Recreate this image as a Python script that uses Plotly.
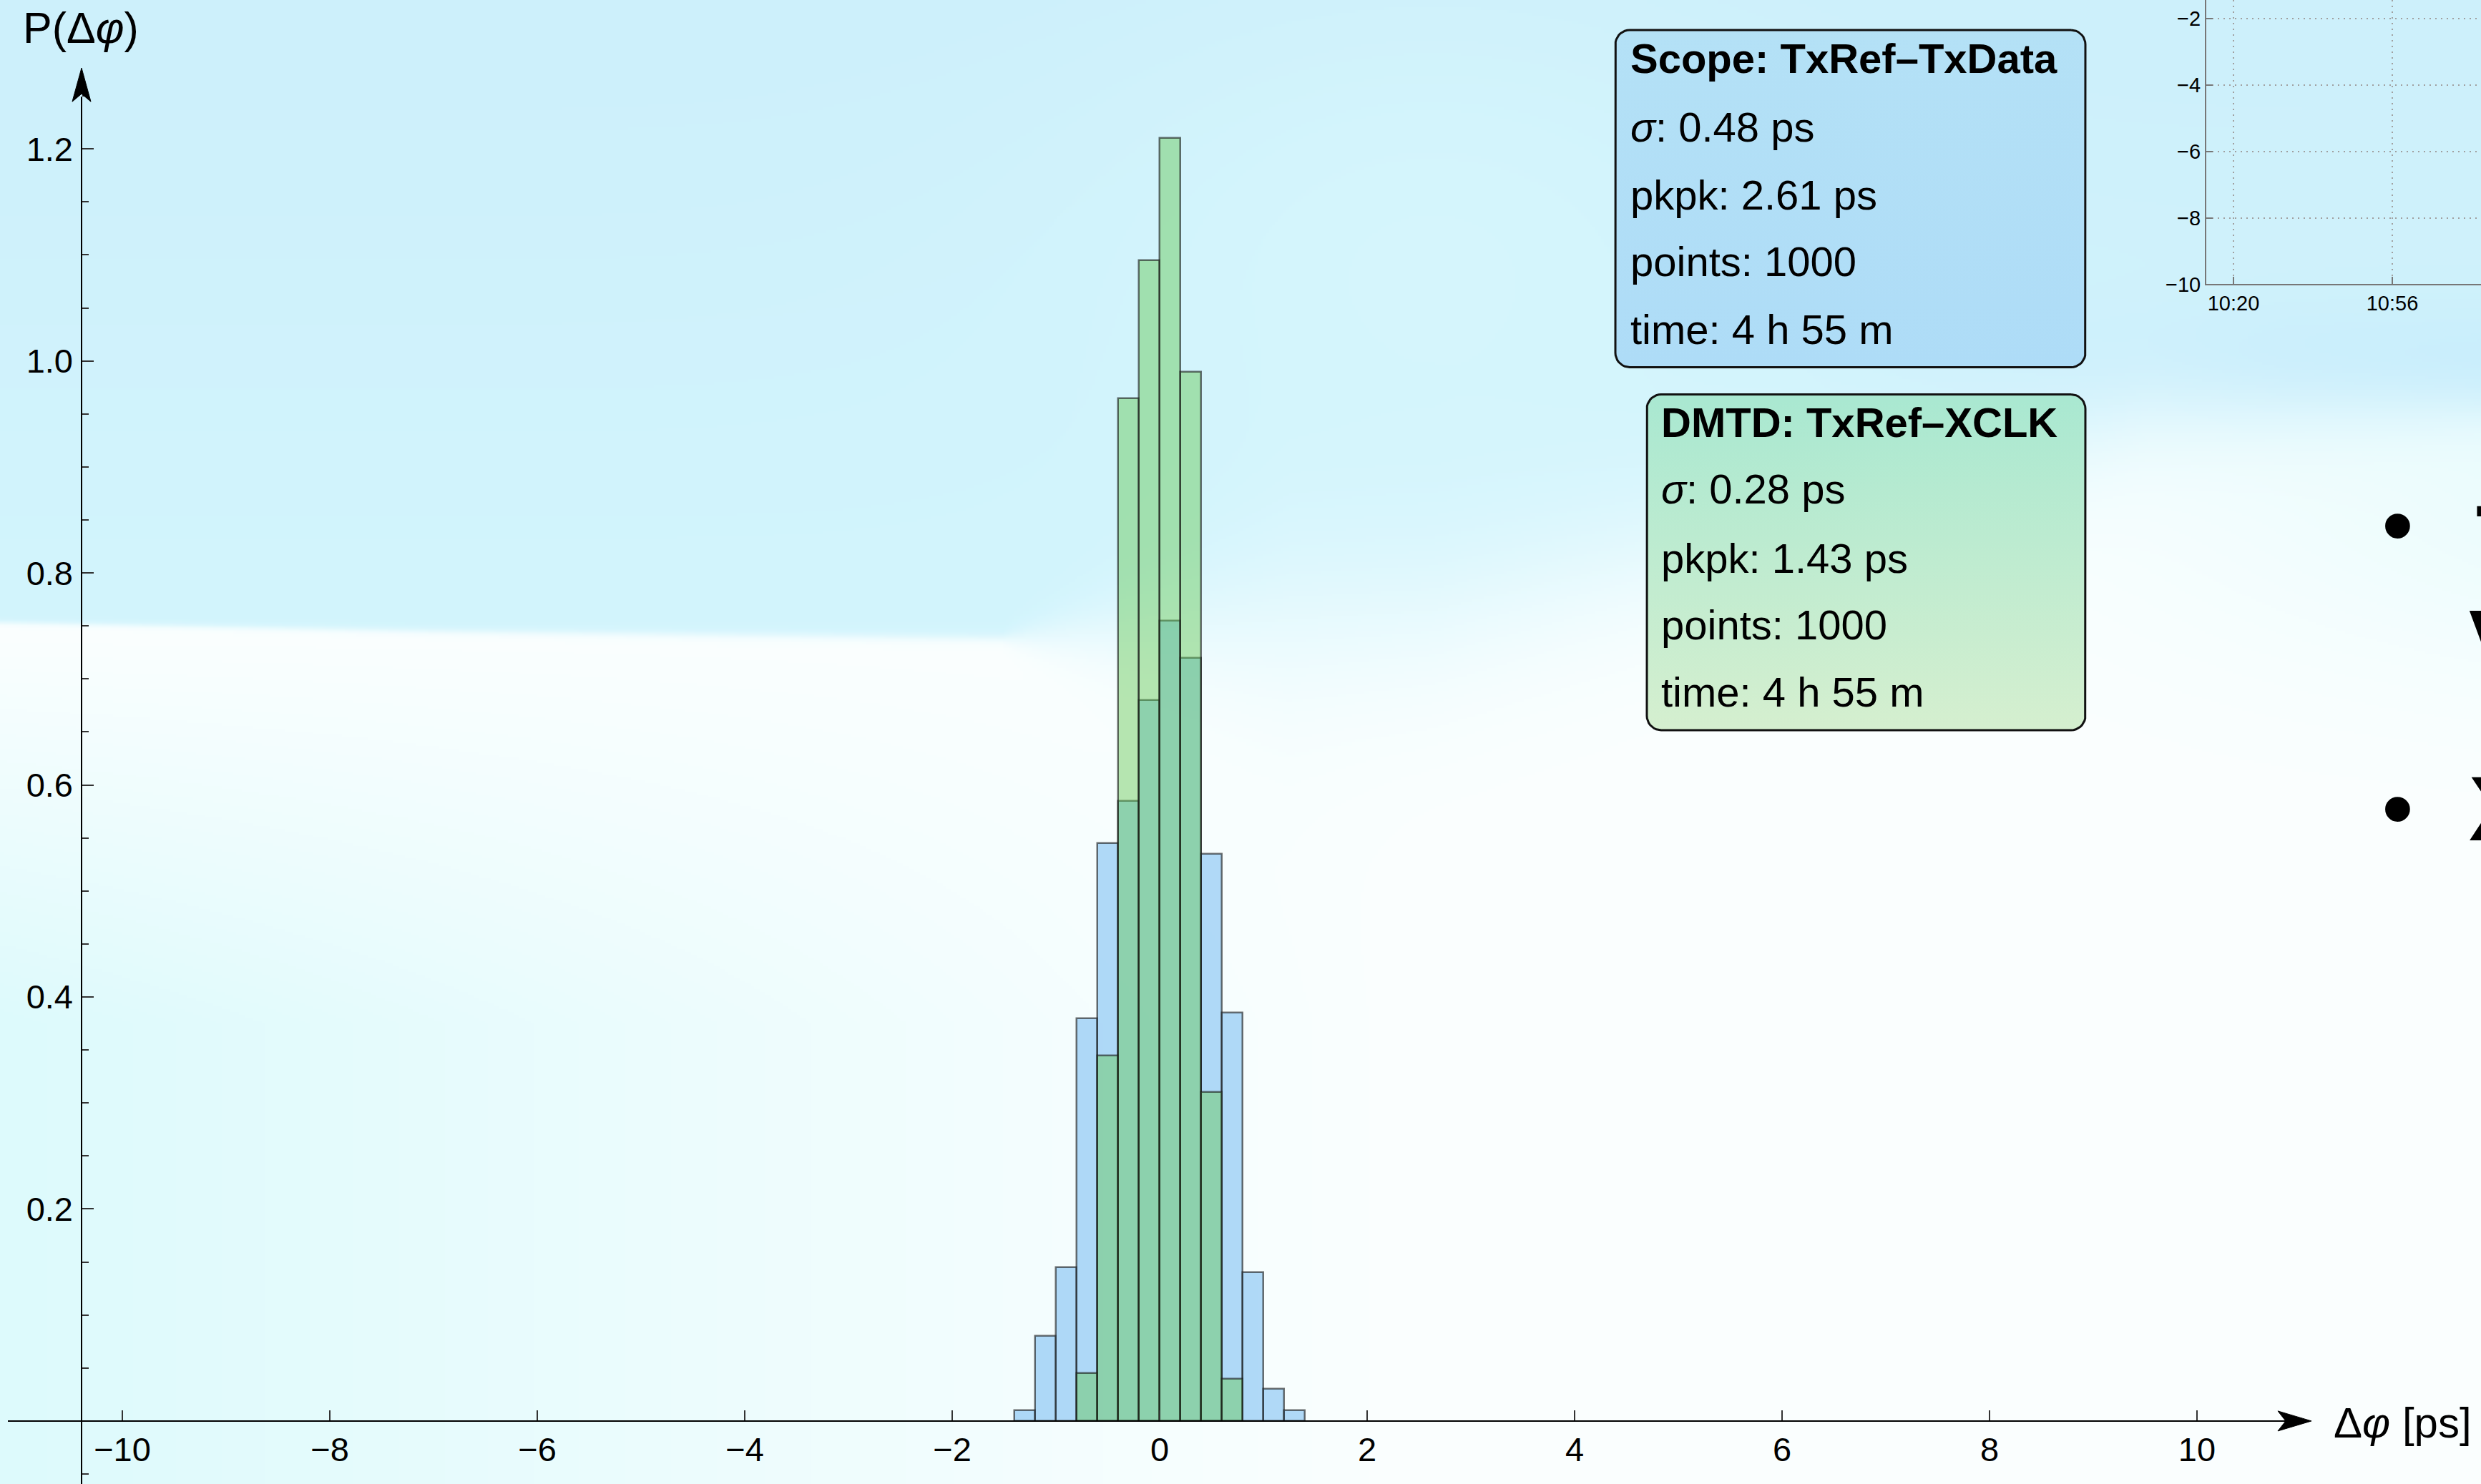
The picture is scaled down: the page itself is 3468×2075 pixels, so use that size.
import base64
import struct
import zlib

import numpy as np
import plotly.graph_objects as go

# ---------------------------------------------------------------- data
bin_width = 0.2

# Scope measurement TxRef-TxData: normalised histogram (density per ps)
scope_centers = [-1.3, -1.1, -0.9, -0.7, -0.5, -0.3, -0.1, 0.1, 0.3, 0.5, 0.7, 0.9, 1.1, 1.3]
scope_density = [0.01, 0.08, 0.145, 0.38, 0.545, 0.585, 0.68, 0.755, 0.72, 0.535, 0.385, 0.14, 0.03, 0.01]

# DMTD measurement TxRef-XCLK
dmtd_centers = [-0.7, -0.5, -0.3, -0.1, 0.1, 0.3, 0.5, 0.7]
dmtd_density = [0.045, 0.345, 0.965, 1.095, 1.21, 0.99, 0.31, 0.04]

x_ticks = [-10, -8, -6, -4, -2, 0, 2, 4, 6, 8, 10]
x_tick_text = ["\u221210", "\u22128", "\u22126", "\u22124", "\u22122", "0", "2", "4", "6", "8", "10"]
y_ticks = [0.2, 0.4, 0.6, 0.8, 1.0, 1.2]
y_tick_text = ["0.2", "0.4", "0.6", "0.8", "1.0", "1.2"]
y_minor_ticks = [-0.05, 0.05, 0.1, 0.15, 0.25, 0.3, 0.35, 0.45, 0.5, 0.55, 0.65, 0.7, 0.75,
                 0.85, 0.9, 0.95, 1.05, 1.1, 1.15, 1.25]

scope_title = "Scope: TxRef\u2013TxData"
scope_stats = ["<i>\u03c3</i>: 0.48 ps", "pkpk: 2.61 ps", "points: 1000", "time: 4 h 55 m"]
dmtd_title = "DMTD: TxRef\u2013XCLK"
dmtd_stats = ["<i>\u03c3</i>: 0.28 ps", "pkpk: 1.43 ps", "points: 1000", "time: 4 h 55 m"]

# small time-series panel in the corner (minutes after midnight)
inset_x_ticks = [620, 656]
inset_x_text = ["10:20", "10:56"]
inset_y_ticks = [-10, -8, -6, -4, -2]
inset_y_text = ["\u221210", "\u22128", "\u22126", "\u22124", "\u22122"]

# ---------------------------------------------------------------- geometry
# Layout is designed on a 3468 x 2075 grid; the canvas itself is a bit taller.
W, H = 3468, 2075
FIG_H = 2093
X0_PX, PX_PER_X = 1621.0, 145.0      # pixel of x = 0, pixels per ps
Y0_PX, PX_PER_Y = 1985.0, 1480.8     # pixel of P = 0, pixels per unit
AXIS_X_PX = 114.0                    # vertical axis position

FONT = "Liberation Sans, Arial, sans-serif"


def px_to_x(px):
    return (px - X0_PX) / PX_PER_X


def px_to_y(py):
    return (Y0_PX - py) / PX_PER_Y


def pfx(px):
    return px / W


def pfy(py):
    return 1.0 - py / H


def paper_path(points):
    pts = " L ".join(f"{pfx(x):.6f},{pfy(y):.6f}" for x, y in points)
    return "M " + pts + " Z"


def rounded_rect(x0, y0, x1, y1, r, n=10):
    """Outline of a rounded rectangle in grid pixels, returned in data units."""
    pts = []
    corners = [(x1 - r, y0 + r, -90, 0), (x1 - r, y1 - r, 0, 90),
               (x0 + r, y1 - r, 90, 180), (x0 + r, y0 + r, 180, 270)]
    for cx, cy, a0, a1 in corners:
        for a in np.linspace(np.radians(a0), np.radians(a1), n):
            pts.append((cx + r * np.cos(a), cy + r * np.sin(a)))
    pts.append(pts[0])
    xs = [px_to_x(p[0]) for p in pts]
    ys = [px_to_y(p[1]) for p in pts]
    return xs, ys


# ---------------------------------------------------------------- background
def png_data_uri(arr):
    h, w, _ = arr.shape
    raw = b"".join(b"\x00" + arr[i].tobytes() for i in range(h))

    def chunk(tag, payload):
        c = struct.pack(">I", len(payload)) + tag + payload
        return c + struct.pack(">I", zlib.crc32(tag + payload) & 0xFFFFFFFF)

    png = (b"\x89PNG\r\n\x1a\n"
           + chunk(b"IHDR", struct.pack(">IIBBBBB", w, h, 8, 2, 0, 0, 0))
           + chunk(b"IDAT", zlib.compress(raw, 9))
           + chunk(b"IEND", b""))
    return "data:image/png;base64," + base64.b64encode(png).decode()


def slide_background(scale=4):
    w, h = W // scale, H // scale + 1
    X = np.arange(w)[None, :] * scale + np.zeros((h, 1))
    Y = np.arange(h)[:, None] * scale + np.zeros((1, w))

    # light-blue upper band
    t = np.clip(Y / 900.0, 0, 1)
    top = np.stack([205 + 6 * t, 240 + 5 * t, 251 + 2 * t], axis=-1)
    lift = np.exp(-((X - 2000) / 500.0) ** 2 - ((Y - 300) / 350.0) ** 2)
    top += lift[..., None] * np.array([6, 4, 1])
    dark = np.clip((X - 2500) / 700.0, 0, 1) * np.exp(-((Y - 520) / 90.0) ** 2)
    top -= dark[..., None] * np.array([8, 5, 0])

    # pale lower part, cyan towards the bottom-left and right side
    wc = np.clip(1 - X / 2000.0, 0, 1) ** 1.1 * np.clip((Y - 880) / 550.0, 0, 1)
    wr = np.clip((X - 2700) / 800.0, 0, 1) * np.exp(-((Y - 680) / 260.0) ** 2) * 0.5
    wl = np.clip(wc + wr, 0, 1)[..., None]
    low = (1 - wl) * np.array([251, 255, 255]) + wl * np.array([221, 250, 252])

    yb = np.interp(X, [0, 600, 1400, 2000, 2600, 3000, 3468], [868, 880, 890, 850, 700, 585, 575])
    soft = np.interp(X, [0, 1400, 1800, 2600, 3468], [2, 4, 80, 60, 25])
    m = 1.0 / (1.0 + np.exp(np.clip((Y - yb) / soft, -50, 50)))
    img = m[..., None] * top + (1 - m[..., None]) * low
    return png_data_uri(np.clip(img, 0, 255).astype(np.uint8))


# ---------------------------------------------------------------- figure
fig = go.Figure()

edge = dict(color="rgba(25,25,25,0.62)", width=2.5)
fig.add_bar(x=scope_centers, y=scope_density, width=bin_width,
            marker=dict(color="rgba(103,179,239,0.5)", line=edge), hoverinfo="skip")
fig.add_bar(x=dmtd_centers, y=dmtd_density, width=bin_width,
            marker=dict(color="rgba(99,199,83,0.45)", line=edge), hoverinfo="skip")

# statistics boxes
boxes = [
    ((2258, 42, 2915, 513), "#B4E1F6", "#AEDCF7"),
    ((2302, 551, 2915, 1020), "#A9E8D1", "#D5EFCF"),
]
for (bx0, by0, bx1, by1), c_top, c_bot in boxes:
    xs, ys = rounded_rect(bx0, by0, bx1, by1, 20)
    fig.add_trace(go.Scatter(
        x=xs, y=ys, mode="lines", fill="toself",
        fillgradient=dict(type="vertical", colorscale=[[0, c_bot], [1, c_top]]),
        line=dict(color="#111111", width=3), hoverinfo="skip", showlegend=False))

# empty trace so the corner panel is laid out
fig.add_trace(go.Scatter(x=[], y=[], xaxis="x2", yaxis="y2", showlegend=False))

annotations = []


def text_line(x_px, baseline_px, text, size, bold=False):
    annotations.append(dict(
        xref="paper", yref="paper", x=pfx(x_px), y=pfy(baseline_px - 0.3465 * size),
        xanchor="left", yanchor="middle", showarrow=False, align="left",
        text=f"<b>{text}</b>" if bold else text,
        font=dict(family=FONT, size=size, color="black")))


STAT_SIZE = 58
for x_px, baselines, title, stats in [
    (2277, [102, 197, 292, 385, 480], scope_title, scope_stats),
    (2320, [610, 703, 800, 893, 987], dmtd_title, dmtd_stats),
]:
    text_line(x_px, baselines[0], title, STAT_SIZE, bold=True)
    for b, s in zip(baselines[1:], stats):
        text_line(x_px, b, s, STAT_SIZE)

# axis titles
text_line(30, 60, "P(\u0394<i>\u03c6</i>)", 61)
text_line(3260, 2008, "\u0394<i>\u03c6</i> [ps]", 60)

# bullet list running off the right edge
BULLET = 128
for cy in [733, 1128]:
    annotations.append(dict(xref="paper", yref="paper", x=pfx(3351), y=pfy(cy),
                            xanchor="center", yanchor="middle", showarrow=False,
                            text="\u2022", font=dict(family=FONT, size=BULLET, color="black")))
for x_px, cap_top, letter in [(3459, 703, "T"), (3449, 849, "V"), (3449, 1082, "X")]:
    text_line(x_px, cap_top + 0.716 * BULLET, letter, BULLET, bold=True)

# arrow-style axes
shapes = [
    dict(type="line", xref="paper", yref="paper", x0=pfx(11), x1=pfx(3200),
         y0=pfy(Y0_PX), y1=pfy(Y0_PX), line=dict(color="black", width=2), layer="above"),
    dict(type="line", xref="paper", yref="paper", x0=pfx(AXIS_X_PX), x1=pfx(AXIS_X_PX),
         y0=0, y1=pfy(135), line=dict(color="black", width=2), layer="above"),
    dict(type="path", xref="paper", yref="paper", layer="above",
         path=paper_path([(3231, Y0_PX), (3184, Y0_PX - 14), (3195, Y0_PX), (3184, Y0_PX + 14)]),
         fillcolor="black", line=dict(color="black", width=1)),
    dict(type="path", xref="paper", yref="paper", layer="above",
         path=paper_path([(AXIS_X_PX, 95), (AXIS_X_PX - 13, 142), (AXIS_X_PX, 131), (AXIS_X_PX + 13, 142)]),
         fillcolor="black", line=dict(color="black", width=1)),
]

tick_font = dict(family=FONT, size=47, color="black")
inset_font = dict(family=FONT, size=29, color="black")

fig.update_layout(
    width=W, height=FIG_H,
    margin=dict(l=0, r=0, t=0, b=0, pad=0),
    paper_bgcolor="white", plot_bgcolor="rgba(0,0,0,0)",
    barmode="overlay", bargap=0, showlegend=False, hovermode=False,
    images=[dict(source=slide_background(), xref="paper", yref="paper", x=0, y=1,
                 sizex=1, sizey=1, sizing="stretch", xanchor="left", yanchor="top",
                 layer="below")],
    xaxis=dict(domain=[0, 1], range=[px_to_x(0), px_to_x(W)], anchor="free",
               position=pfy(Y0_PX), showgrid=False, zeroline=False, showline=False,
               ticks="inside", ticklen=15, tickwidth=1.5, tickcolor="#333",
               ticklabelstandoff=8,
               tickvals=x_ticks, ticktext=x_tick_text, tickfont=tick_font),
    yaxis=dict(domain=[0, 1], range=[px_to_y(H), px_to_y(0)], anchor="free",
               position=pfx(AXIS_X_PX), showgrid=False, zeroline=False, showline=False,
               ticks="inside", ticklen=16, tickwidth=1.5, tickcolor="#333",
               ticklabelstandoff=12,
               tickvals=y_ticks, ticktext=y_tick_text, tickfont=tick_font,
               minor=dict(ticks="inside", ticklen=9, tickwidth=1.5, tickcolor="#333",
                          tickvals=y_minor_ticks)),
    xaxis2=dict(domain=[pfx(3084), 1], anchor="y2",
                range=[620 - 38 / 222 * 36, 656 + 124 / 222 * 36],
                tickvals=inset_x_ticks, ticktext=inset_x_text, tickfont=inset_font,
                ticks="inside", ticklen=10, tickwidth=1.5, tickcolor="#777",
                showline=True, linecolor="#777", linewidth=2, zeroline=False,
                showgrid=True, gridcolor="#A0A0A0", gridwidth=2, griddash="2px,6px"),
    yaxis2=dict(domain=[pfy(397), 1], anchor="x2",
                range=[-10, -2 + 26 / 46.4],
                tickvals=inset_y_ticks, ticktext=inset_y_text, tickfont=inset_font,
                ticks="inside", ticklen=9, tickwidth=1.5, tickcolor="#777",
                showline=True, linecolor="#777", linewidth=2, zeroline=False,
                showgrid=True, gridcolor="#A0A0A0", gridwidth=2, griddash="2px,6px"),
    annotations=annotations,
    shapes=shapes,
)

fig.write_html("out.html")
